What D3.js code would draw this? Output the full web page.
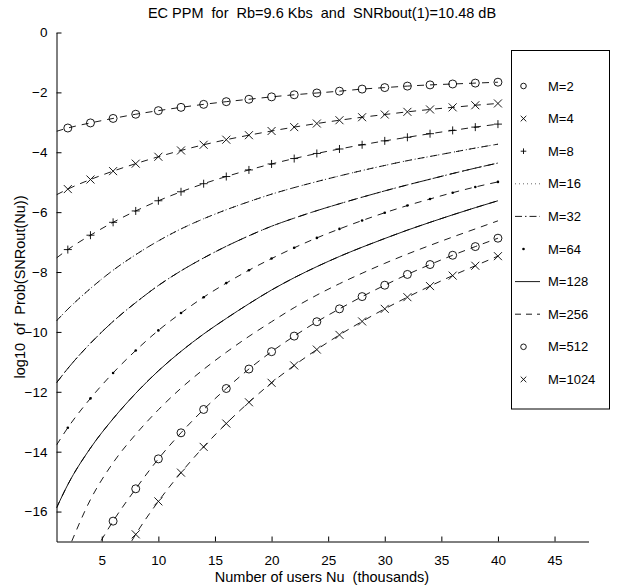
<!DOCTYPE html>
<html>
<head>
<meta charset="utf-8">
<script src="https://cdn.jsdelivr.net/npm/d3@7"></script>
<style>
  body { margin: 0; background: #fff; }
  text { font-family: "Liberation Sans", Arial, sans-serif; fill: #000; white-space: pre; }
</style>
</head>
<body>
<div id="chart"></div>
<script>
// number of users (thousands) where each curve was read
const nuValues = [1, 2, 4, 6, 8, 10, 12, 14, 16, 18, 20, 22, 24, 26, 28, 30, 32, 34, 36, 38, 40];

// log10 of Prob(SNRout(Nu)) for each M
const m2    = [-3.30, -3.19, -3.02, -2.87, -2.73, -2.61, -2.50, -2.40, -2.31, -2.23, -2.15, -2.08, -2.02, -1.96, -1.89, -1.84, -1.79, -1.75, -1.72, -1.69, -1.66];
const m4    = [-5.42, -5.23, -4.91, -4.63, -4.38, -4.15, -3.94, -3.75, -3.58, -3.43, -3.29, -3.16, -3.04, -2.93, -2.83, -2.74, -2.65, -2.57, -2.50, -2.43, -2.37];
const m8    = [-7.53, -7.25, -6.77, -6.34, -5.96, -5.62, -5.32, -5.05, -4.81, -4.59, -4.39, -4.21, -4.04, -3.89, -3.75, -3.62, -3.50, -3.38, -3.27, -3.16, -3.06];
const m16   = [-9.63, -9.24, -8.55, -7.94, -7.42, -6.96, -6.56, -6.22, -5.92, -5.65, -5.40, -5.18, -4.98, -4.79, -4.61, -4.44, -4.28, -4.14, -4.00, -3.86, -3.73];
const m32   = [-11.70, -11.22, -10.38, -9.65, -9.02, -8.45, -7.96, -7.53, -7.14, -6.79, -6.47, -6.20, -5.95, -5.72, -5.50, -5.29, -5.09, -4.90, -4.71, -4.53, -4.36];
const m64   = [-13.78, -13.20, -12.22, -11.37, -10.62, -9.95, -9.37, -8.84, -8.37, -7.94, -7.55, -7.19, -6.86, -6.56, -6.28, -6.02, -5.78, -5.56, -5.35, -5.16, -4.99];
const m128  = [-15.88, -15.10, -13.88, -12.90, -12.05, -11.30, -10.65, -10.07, -9.55, -9.06, -8.60, -8.19, -7.82, -7.48, -7.17, -6.88, -6.60, -6.34, -6.09, -5.85, -5.62];
const m256  = [-18.20, -17.30, -15.60, -14.37, -13.42, -12.60, -11.88, -11.25, -10.68, -10.15, -9.66, -9.19, -8.77, -8.39, -8.04, -7.71, -7.40, -7.11, -6.83, -6.56, -6.29];
const m512  = [-20.10, -19.10, -17.60, -16.32, -15.24, -14.24, -13.37, -12.59, -11.89, -11.24, -10.66, -10.14, -9.66, -9.23, -8.82, -8.44, -8.08, -7.75, -7.44, -7.15, -6.87];
const m1024 = [-22.50, -21.30, -19.50, -18.10, -16.76, -15.66, -14.70, -13.84, -13.06, -12.35, -11.70, -11.12, -10.59, -10.10, -9.65, -9.23, -8.84, -8.47, -8.12, -7.79, -7.47];

const mLabels = ['M=2', 'M=4', 'M=8', 'M=16', 'M=32', 'M=64', 'M=128', 'M=256', 'M=512', 'M=1024'];
const xTicks = [5, 10, 15, 20, 25, 30, 35, 40, 45];
const yTicks = [0, -2, -4, -6, -8, -10, -12, -14, -16];

// how each curve is drawn: a dashed line under every curve, plus an overlay
const series = [
  { label: mLabels[0], values: m2,    marker: 'circle' },
  { label: mLabels[1], values: m4,    marker: 'cross' },
  { label: mLabels[2], values: m8,    marker: 'plus' },
  { label: mLabels[3], values: m16,   overlay: '1,3' },
  { label: mLabels[4], values: m32,   overlay: '10,3,1.5,3' },
  { label: mLabels[5], values: m64,   marker: 'dot' },
  { label: mLabels[6], values: m128,  overlay: 'none' },
  { label: mLabels[7], values: m256 },
  { label: mLabels[8], values: m512,  marker: 'circle' },
  { label: mLabels[9], values: m1024, marker: 'cross' }
];

const W = 618, H = 586;
const pLeft = 56.5, pRight = 588.5, pTop = 32.5, pBottom = 541.5;

const svg = d3.select('#chart').append('svg').attr('width', W).attr('height', H);

const x = d3.scaleLinear().domain([1, 48]).range([pLeft, pRight]);
const y = d3.scaleLinear().domain([-17, 0]).range([pBottom, pTop]);

svg.append('defs').append('clipPath').attr('id', 'plot-clip')
  .append('rect').attr('x', pLeft).attr('y', pTop).attr('width', pRight - pLeft).attr('height', pBottom - pTop);

// axes (ticks point inward like the original)
const fmt = d => d < 0 ? '\u2212' + Math.abs(d) : String(d);
const xAxisG = svg.append('g').attr('transform', `translate(0,${pBottom})`)
  .call(d3.axisBottom(x).tickValues(xTicks).tickSizeInner(-5).tickSizeOuter(0).tickPadding(14).tickFormat(fmt));
const yAxisG = svg.append('g').attr('transform', `translate(${pLeft},0)`)
  .call(d3.axisLeft(y).tickValues(yTicks).tickSizeInner(-5).tickSizeOuter(0).tickPadding(9).tickFormat(fmt));
[xAxisG, yAxisG].forEach(g => {
  g.selectAll('text').style('font-size', '13.5px').style('font-family', '"Liberation Sans", Arial, sans-serif');
  g.select('.domain').attr('stroke', '#000');
  g.selectAll('.tick line').attr('stroke', '#000');
});

// titles
svg.append('text').attr('x', 322).attr('y', 18).attr('text-anchor', 'middle').style('font-size', '14.5px')
  .text('EC PPM  for  Rb=9.6 Kbs  and  SNRbout(1)=10.48 dB');
svg.append('text').attr('x', 322).attr('y', 582).attr('text-anchor', 'middle').style('font-size', '14.5px')
  .text('Number of users Nu  (thousands)');
svg.append('text').attr('transform', `translate(25,${(pTop + pBottom) / 2}) rotate(-90)`).attr('text-anchor', 'middle').style('font-size', '14.5px')
  .text('log10  of  Prob(SNRout(Nu))');

const line = d3.line().x(d => x(d.nu)).y(d => y(d.v)).curve(d3.curveMonotoneX);
const plot = svg.append('g').attr('clip-path', 'url(#plot-clip)');

function drawMarker(g, type, cx, cy, s) {
  if (type === 'circle') {
    g.append('circle').attr('cx', cx).attr('cy', cy).attr('r', s).attr('fill', 'none').attr('stroke', '#000').attr('stroke-width', 0.9);
  } else if (type === 'cross') {
    g.append('path').attr('d', `M${cx - s},${cy - s}L${cx + s},${cy + s}M${cx - s},${cy + s}L${cx + s},${cy - s}`)
      .attr('stroke', '#000').attr('stroke-width', 0.9);
  } else if (type === 'plus') {
    g.append('path').attr('d', `M${cx - s},${cy}L${cx + s},${cy}M${cx},${cy - s}L${cx},${cy + s}`)
      .attr('stroke', '#000').attr('stroke-width', 0.9);
  } else if (type === 'dot') {
    g.append('circle').attr('cx', cx).attr('cy', cy).attr('r', 1.3).attr('fill', '#000');
  }
}

series.forEach(s => {
  const pts = nuValues.map((nu, i) => ({ nu: nu, v: s.values[i] }));
  plot.append('path').datum(pts).attr('d', line).attr('fill', 'none')
    .attr('stroke', '#000').attr('stroke-width', 0.9).attr('stroke-dasharray', '7,6');
  if (s.overlay) {
    plot.append('path').datum(pts).attr('d', line).attr('fill', 'none')
      .attr('stroke', '#000').attr('stroke-width', 0.9).attr('stroke-dasharray', s.overlay);
  }
  if (s.marker) {
    pts.filter(p => p.nu % 2 === 0).forEach(p => drawMarker(plot, s.marker, x(p.nu), y(p.v), 4));
  }
});

// legend
const lg = svg.append('g');
lg.append('rect').attr('x', 511.5).attr('y', 50.5).attr('width', 98).attr('height', 358.5)
  .attr('fill', '#fff').attr('stroke', '#000').attr('stroke-width', 1);
series.forEach((s, i) => {
  const cy = 86 + i * 32.6;
  if (s.marker) {
    drawMarker(lg, s.marker, 523.5, cy, 2.8);
  } else {
    const dash = s.overlay === 'none' ? null : (s.overlay === '1,3' ? '1,3' : (s.overlay ? '7,3,1.5,3' : '6,5'));
    lg.append('line').attr('x1', 515).attr('x2', 540).attr('y1', cy).attr('y2', cy)
      .attr('stroke', '#000').attr('stroke-width', s.overlay === '1,3' ? 0.6 : 0.9).attr('stroke-dasharray', dash);
  }
  lg.append('text').attr('x', 548).attr('y', cy + 4.5).style('font-size', '13px').text(s.label);
});
</script>
</body>
</html>
